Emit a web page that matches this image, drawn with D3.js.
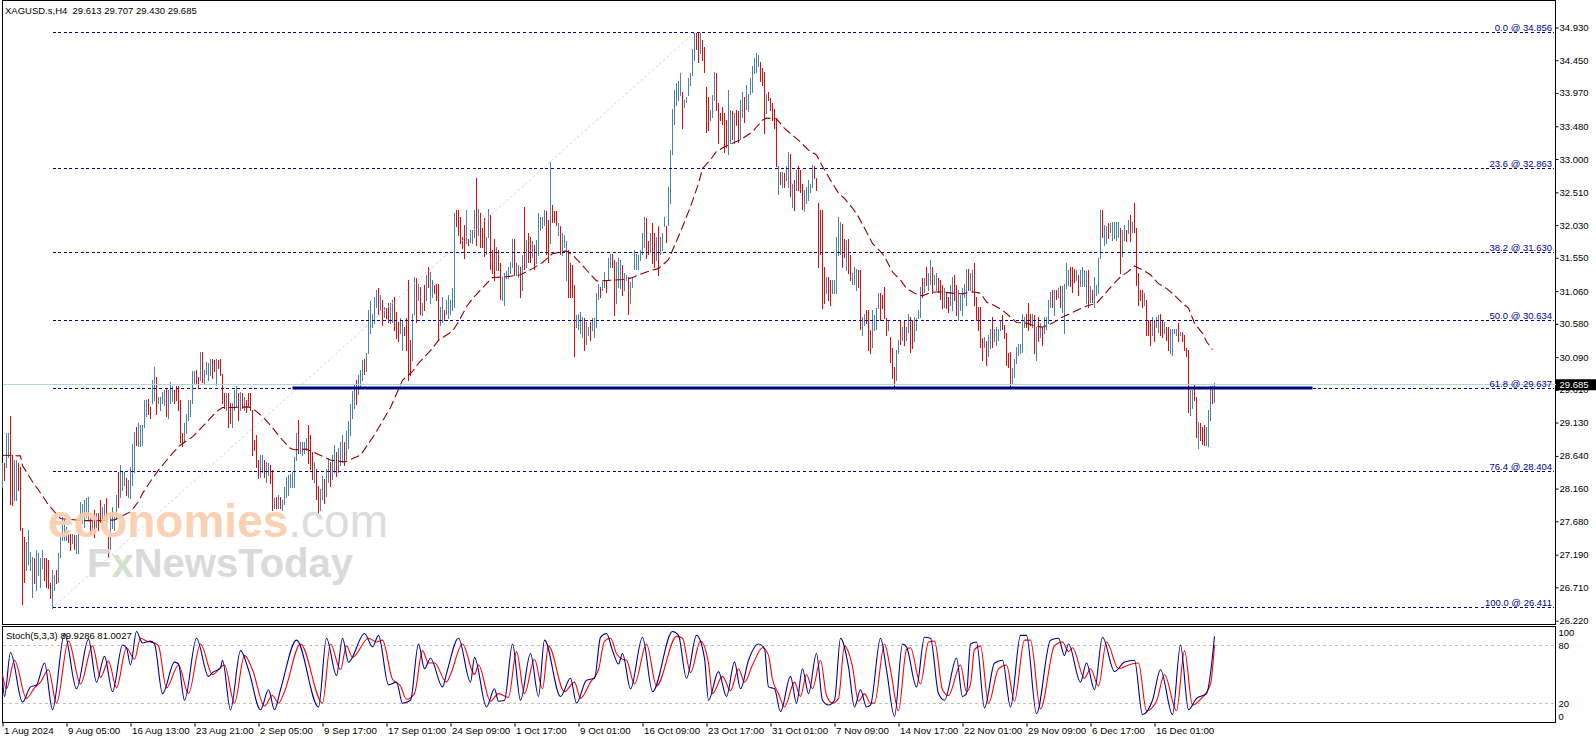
<!DOCTYPE html>
<html>
<head>
<meta charset="utf-8">
<script src="https://cdn.jsdelivr.net/npm/d3@7"></script>
<style>
  html, body { margin: 0; background: #fff; overflow: hidden }
  svg { display: block }
  text { font-family: "Liberation Sans", Arial, sans-serif }
</style>
</head>
<body>
<svg width="1596" height="743"></svg>
<script>
// XAGUSD.s H4 bars, one entry per bar (index 0 = 1 Aug 2024)
var barHigh = [
  28.53,28.53,28.97,28.97,29.22,28.65,28.58,28.58,28.53,28.48,
  27.58,27.45,27.38,27.55,27.23,27.16,27.14,27.26,27.21,27.14,
  27.26,27.14,27.14,27.11,26.77,26.96,26.89,26.96,27.21,27.48,
  27.75,27.70,27.60,27.50,27.50,27.50,27.48,27.48,27.50,27.97,
  27.94,27.99,28.02,28.04,27.75,27.70,27.85,27.80,27.80,27.99,
  27.89,27.94,28.02,27.45,27.80,27.89,27.75,28.06,28.41,28.50,
  28.41,28.41,28.31,28.29,28.48,28.82,28.99,29.07,29.12,29.09,
  29.09,29.46,29.46,29.48,29.36,29.75,29.95,29.80,29.51,29.51,
  29.58,29.61,29.63,29.61,29.73,29.66,29.61,29.66,29.66,29.46,
  28.97,29.12,29.26,29.46,29.46,29.88,29.88,29.90,29.80,30.17,
  30.17,29.90,30.02,30.00,30.07,30.07,30.05,30.07,30.05,30.07,
  29.85,29.56,29.56,29.56,29.41,29.41,29.61,29.66,29.56,29.58,
  29.56,29.51,29.46,29.56,29.56,29.31,28.87,28.95,28.58,28.65,
  28.65,28.58,28.55,28.53,28.50,28.43,28.02,28.04,28.06,28.04,
  27.99,28.19,28.33,28.36,28.38,28.41,28.63,28.97,29.17,28.85,
  28.85,28.85,28.90,29.09,28.95,28.70,28.55,28.45,28.20,28.15,
  28.35,28.30,28.45,28.60,28.55,28.65,28.80,28.70,28.75,28.85,
  28.95,28.85,29.00,29.15,29.40,29.60,29.70,29.75,29.83,29.90,
  30.05,30.07,30.15,30.78,30.91,30.73,30.98,31.08,31.10,31.00,
  30.93,30.83,30.81,30.88,30.88,30.93,30.98,30.76,30.61,30.66,
  30.63,30.54,30.66,31.22,30.34,30.73,31.27,31.25,31.17,31.12,
  30.88,31.15,31.29,31.42,31.34,31.22,31.15,31.17,31.17,30.83,
  30.98,30.78,30.93,31.00,30.93,31.10,32.20,32.25,32.25,32.15,
  31.86,32.03,32.25,31.83,31.96,31.96,32.25,32.72,32.27,32.20,
  31.98,32.13,31.86,32.27,32.18,31.66,31.83,31.71,31.66,31.47,
  31.27,31.32,31.35,31.42,31.49,31.83,31.83,31.47,31.44,31.42,
  31.59,32.30,31.81,31.91,31.86,31.79,31.74,31.81,32.20,32.15,
  32.15,32.25,32.23,32.10,32.96,32.32,32.23,32.23,32.06,32.01,
  31.91,31.88,31.79,31.66,31.47,31.44,31.15,30.71,30.73,30.76,
  30.68,30.66,30.61,30.54,30.61,30.66,30.66,31.03,31.17,31.12,
  31.20,31.34,31.22,31.54,31.61,31.61,31.52,31.49,31.54,31.52,
  31.44,31.32,31.30,31.27,31.20,31.25,31.66,31.61,31.59,31.66,
  31.91,32.15,32.13,31.79,31.91,32.06,31.91,31.86,32.01,31.86,
  31.91,32.15,32.01,32.59,33.13,33.74,34.01,34.11,34.14,34.26,
  33.99,33.87,33.91,34.19,34.26,34.62,34.85,34.85,34.85,34.85,
  34.75,34.65,34.06,33.91,33.72,33.94,34.28,34.26,33.82,33.67,
  33.77,33.67,33.57,34.01,33.72,33.70,33.67,33.72,33.70,33.87,
  33.99,33.91,34.09,33.96,34.19,34.36,34.48,34.55,34.53,34.43,
  34.33,34.28,33.96,33.99,33.89,33.82,33.74,33.60,32.89,32.81,
  32.81,32.79,32.89,33.11,33.08,32.64,32.69,32.84,32.89,32.84,
  32.64,32.54,32.59,32.69,32.64,32.91,32.89,32.72,32.35,32.25,
  32.25,31.42,31.27,31.27,31.22,31.22,31.22,31.86,32.15,32.08,
  32.05,31.83,31.81,31.83,31.59,31.32,31.42,31.39,31.37,31.37,
  30.68,30.73,30.78,30.78,30.49,30.78,30.71,30.81,31.03,31.03,
  31.00,31.12,30.66,30.63,30.39,30.22,29.95,30.20,30.34,30.63,
  30.54,30.63,30.54,30.73,30.68,30.63,30.68,30.66,30.78,31.12,
  31.25,31.25,31.42,31.32,31.52,31.42,31.30,31.32,31.25,31.22,
  31.15,31.10,31.03,30.98,31.15,31.27,31.30,31.15,31.08,31.00,
  31.10,31.17,31.39,31.39,31.32,31.37,31.47,30.98,30.83,30.83,
  30.37,30.39,30.32,30.42,30.51,30.68,30.51,30.54,30.51,30.64,
  30.71,30.56,30.44,30.15,30.17,29.93,30.07,30.24,30.29,30.29,
  30.73,30.68,30.73,30.88,30.73,30.73,30.71,30.54,30.68,30.59,
  30.54,30.68,30.68,30.93,31.05,31.08,31.08,31.08,31.10,31.13,
  31.13,31.17,31.47,31.37,31.42,31.42,31.39,31.37,31.30,31.37,
  31.42,31.37,31.35,31.37,31.13,31.08,31.27,31.15,31.54,32.25,
  32.25,32.03,32.01,32.06,32.06,32.08,32.08,32.08,32.08,31.98,
  31.96,32.03,31.96,32.10,32.18,32.08,32.35,31.98,31.32,31.08,
  31.08,31.03,30.93,30.64,30.64,30.68,30.64,30.68,30.71,30.73,
  30.64,30.61,30.54,30.54,30.51,30.51,30.51,30.51,30.59,30.46,
  30.46,30.42,30.22,30.19,29.61,29.61,29.68,29.51,29.14,29.12,
  29.07,29.09,29.07,29.31,29.66,29.66,29.707
]
var barLow = [
  28.19,28.29,28.48,28.63,27.94,27.92,27.99,27.99,28.14,27.55,
  26.47,26.79,26.96,27.06,26.96,26.57,26.77,26.67,26.89,26.72,
  26.99,26.82,26.72,26.70,26.55,26.41,26.67,26.77,26.79,27.16,
  27.40,27.40,27.40,27.38,27.26,27.36,27.28,27.21,27.21,27.72,
  27.65,27.60,27.75,27.70,27.50,27.55,27.45,27.60,27.55,27.67,
  27.58,27.75,27.65,27.16,27.28,27.58,27.55,27.72,27.89,28.04,
  28.14,28.21,28.06,28.04,28.02,28.21,28.41,28.80,28.78,28.78,
  28.80,29.07,29.22,29.26,29.19,29.41,29.46,29.26,29.41,29.31,
  29.41,29.39,29.22,29.19,29.41,29.44,29.41,29.46,29.31,28.85,
  28.78,28.85,28.97,29.17,29.22,29.41,29.70,29.70,29.63,29.75,
  29.73,29.70,29.85,29.75,29.83,29.78,29.88,29.68,29.93,29.83,
  29.41,29.34,29.31,29.07,29.12,29.07,29.31,29.36,29.17,29.31,
  29.34,29.31,29.29,29.39,29.31,28.65,28.73,28.48,28.31,28.33,
  28.41,28.33,28.26,28.36,28.24,27.84,27.87,27.87,27.87,27.87,
  27.84,27.94,28.04,28.06,28.19,28.19,28.19,28.58,28.68,28.68,
  28.65,28.68,28.73,28.53,28.45,28.30,28.25,28.00,27.80,27.85,
  28.00,27.95,28.05,28.25,28.20,28.30,28.40,28.35,28.40,28.50,
  28.55,28.50,28.60,28.75,28.95,29.20,29.35,29.40,29.55,29.65,
  29.75,29.85,29.88,30.15,30.44,30.54,30.59,30.83,30.73,30.78,
  30.56,30.68,30.66,30.61,30.59,30.61,30.49,30.37,30.32,30.44,
  30.20,30.42,30.20,29.75,29.83,30.05,30.73,30.61,30.93,30.73,
  30.71,30.78,30.93,31.12,30.88,30.98,31.03,30.93,30.34,30.56,
  30.61,30.63,30.73,30.66,30.73,30.78,30.83,32.01,31.88,31.76,
  31.69,31.54,31.76,31.74,31.78,31.76,31.86,31.74,31.88,31.71,
  31.71,31.57,31.61,31.86,31.39,31.32,31.22,31.37,31.37,30.95,
  30.93,30.86,31.25,31.25,31.32,31.42,31.30,31.30,31.27,30.98,
  31.08,31.39,31.42,31.49,31.49,31.56,31.39,31.47,31.59,31.96,
  31.98,32.03,31.61,31.49,31.76,32.08,32.08,32.03,31.88,31.61,
  31.59,31.71,31.22,30.98,30.98,30.98,30.10,30.54,30.51,30.44,
  30.39,30.20,30.29,30.42,30.34,30.49,30.39,30.54,30.95,30.98,
  31.08,31.12,31.05,31.22,31.42,31.42,30.71,30.88,31.12,31.10,
  31.00,31.08,31.22,30.73,30.88,31.12,31.39,31.39,31.39,31.52,
  31.61,31.71,31.54,31.61,31.64,31.47,31.42,31.52,31.30,31.61,
  31.66,32.01,31.78,32.03,32.35,33.08,33.52,33.79,33.87,33.94,
  33.45,33.77,33.84,33.94,34.09,34.23,34.45,34.62,34.43,34.55,
  34.45,34.28,33.40,33.43,33.57,33.62,33.87,33.72,33.23,33.57,
  33.52,33.11,33.18,33.08,33.23,33.30,33.23,33.50,33.25,33.30,
  33.62,33.55,33.74,33.70,33.96,33.99,34.26,34.28,34.36,34.14,
  34.09,33.38,33.67,33.87,33.72,33.57,33.45,32.89,32.49,32.64,
  32.59,32.59,32.69,32.59,32.45,32.30,32.25,32.54,32.54,32.52,
  32.27,32.23,32.35,32.40,32.52,32.59,32.72,32.54,31.42,31.61,
  30.81,30.88,31.03,30.93,30.86,31.03,31.03,31.03,31.59,31.61,
  31.42,31.56,31.37,31.32,31.22,31.17,31.17,31.08,31.12,30.51,
  30.42,30.56,30.59,30.20,30.15,30.24,30.49,30.51,30.81,30.63,
  30.81,30.66,30.42,30.49,30.02,29.78,29.66,29.75,30.15,30.29,
  30.34,30.27,30.34,30.46,30.17,30.22,30.32,30.49,30.66,30.68,
  30.98,31.05,31.15,31.08,31.17,31.03,31.17,31.08,31.05,30.95,
  30.81,30.83,30.81,30.76,30.86,30.78,30.93,30.71,30.64,30.78,
  30.71,30.98,30.86,31.08,31.08,31.05,30.86,30.64,30.49,30.24,
  30.05,30.24,29.98,30.10,30.22,30.24,30.32,30.27,30.34,30.49,
  30.51,30.37,29.98,29.95,29.63,29.71,29.80,30.00,30.12,30.15,
  30.17,30.54,30.54,30.49,30.56,30.54,30.15,30.05,30.32,30.39,
  30.27,30.44,30.51,30.59,30.83,30.83,30.71,30.95,30.98,30.83,
  30.76,30.44,31.10,31.15,31.13,31.05,31.20,31.22,31.00,31.13,
  31.13,31.13,30.88,30.83,30.90,30.90,30.83,31.00,31.03,31.54,
  31.86,31.74,31.76,31.84,31.93,31.81,31.84,31.81,31.86,31.32,
  31.57,31.81,31.79,31.91,31.79,31.93,31.93,31.15,30.86,30.93,
  30.83,30.86,30.42,30.42,30.27,30.42,30.32,30.54,30.46,30.42,
  30.39,30.44,30.34,30.19,30.15,30.12,30.44,30.42,30.32,30.42,
  30.32,30.19,30.10,29.29,29.24,29.34,29.46,28.92,28.75,28.87,
  28.82,28.80,28.80,28.78,29.17,29.41,29.43
]
// u = up bar (steel blue), d = down bar (red)
var barDir = (
  "uduudduudd dduuuuduuu udddduuduu uuudduduuu uuuudududd " +
  "uudduuuudu uuduuuuduu uuudduuduu uuduuudddd duuuuuuddu " +
  "duuuuddudd ddudduuudu dudddddddu uduuddudud uuuuuuuudu " +
  "uuuddduddu uduuduuduu uduuuuuduu uduuuuuudu dudduudddu " +
  "udddduudud ududuudddu uduuuuuddd dduduuudud dduudddudd " +
  "uuuuuuduud ududduduuu uuddudddud uuudddduuu uduuduuuud " +
  "uuduudduuu duuduuuuuu uudduddudu uuduuuuuuu duuuuuuddu " +
  "dddduuuddd ddduududdu uduuuuuuud ddudddddud uduudududd " +
  "duuuuudddd ddudduuuuu ddudduuudd uuddduuuud ddduddduud " +
  "uduudduuuu duduuduudd dudduudduu uuuduudddd duduuduuuu " +
  "ddddduuuuu uudddududu duuuududud uuuudddudu uuududuuuu " +
  "duuduuuuud uudududddd duddduduud dudduuuudu dddduuddud " +
  "dduuudu").replace(/ /g, "")

// moving average, read at [bar index, price]
var maLine = [
  [0,28.65],[9,28.64],[10,28.50],[15,28.26],[18,28.14],[23,27.92],[29,27.72],[40,27.69],
  [49,27.69],[56,27.70],[64,27.82],[68,27.97],[70,28.09],[75,28.31],[78,28.43],[85,28.68],
  [89,28.80],[95,28.92],[99,29.04],[107,29.29],[110,29.35],[115,29.35],[123,29.36],[125,29.34],
  [130,29.22],[134,29.09],[140,28.87],[144,28.75],[146,28.73],[152,28.74],[164,28.58],[171,28.55],
  [179,28.65],[186,28.95],[194,29.35],[200,29.75],[205,29.88],[208,30.00],[215,30.22],[218,30.34],
  [225,30.47],[228,30.61],[232,30.83],[235,30.95],[242,31.17],[245,31.26],[252,31.27],[259,31.30],
  [265,31.39],[270,31.48],[275,31.61],[282,31.65],[285,31.59],[289,31.47],[292,31.37],[297,31.21],
  [300,31.21],[304,31.22],[310,31.23],[314,31.25],[320,31.32],[325,31.37],[328,31.39],[333,31.52],
  [335,31.66],[339,31.93],[344,32.30],[348,32.64],[350,32.86],[354,32.99],[357,33.11],[361,33.18],
  [365,33.23],[370,33.30],[375,33.40],[377,33.47],[380,33.57],[382,33.60],[387,33.59],[391,33.45],
  [395,33.35],[399,33.25],[403,33.13],[407,33.06],[410,32.89],[414,32.69],[418,32.50],[421,32.42],
  [425,32.28],[428,32.15],[432,31.93],[435,31.76],[439,31.64],[441,31.57],[445,31.34],[449,31.22],
  [452,31.10],[456,31.03],[460,30.99],[464,31.04],[469,31.05],[475,31.03],[480,31.02],[485,31.05],
  [489,31.03],[492,30.90],[497,30.83],[500,30.78],[504,30.68],[507,30.60],[512,30.59],[516,30.55],
  [520,30.53],[525,30.59],[530,30.68],[536,30.76],[542,30.84],[547,30.88],[550,30.98],[555,31.15],
  [559,31.27],[563,31.35],[566,31.43],[570,31.37],[574,31.30],[578,31.17],[582,31.10],[586,31.00],
  [590,30.88],[593,30.81],[596,30.59],[600,30.44],[602,30.32],[605,30.20]
]

// Stochastic(5,3,3): main line (blue) and signal line (red), [bar index, value]
var stochMain = [
  [0,46],[1,27],[4,73],[10,21],[14,37],[17,39],[21,62],[25,13],[31,93],[37,35],[43,87],[47,42],
  [51,69],[55,32],[60,81],[62,78],[64,60],[67,95],[70,83],[74,85],[76,82],[80,30],[86,63],[88,61],
  [91,23],[97,88],[103,48],[105,52],[109,57],[110,65],[114,13],[119,75],[123,55],[129,13],[133,34],
  [136,13],[139,34],[147,86],[158,16],[162,88],[167,49],[170,88],[173,63],[181,93],[185,79],[188,91],
  [193,39],[197,42],[200,20],[204,23],[208,82],[211,56],[214,67],[220,37],[222,51],[228,88],[234,42],
  [236,68],[242,16],[246,35],[248,22],[251,23],[255,82],[259,23],[264,72],[268,27],[271,86],[279,27],
  [284,46],[287,20],[292,44],[296,46],[299,89],[302,93],[305,75],[308,61],[310,72],[314,35],[320,89],
  [325,32],[335,95],[338,91],[342,46],[347,91],[351,67],[353,23],[358,53],[362,27],[366,63],[369,35],
  [373,65],[378,82],[381,77],[383,37],[386,35],[389,11],[394,48],[397,20],[400,56],[403,30],[407,72],
  [410,23],[413,18],[416,23],[419,88],[423,58],[426,16],[429,34],[432,16],[434,18],[439,88],[442,55],
  [446,6],[450,82],[452,79],[457,37],[461,89],[464,88],[468,30],[471,23],[477,67],[480,27],[482,30],
  [484,82],[487,84],[491,15],[496,62],[500,65],[504,16],[509,91],[512,91],[517,9],[524,86],[528,88],
  [531,70],[533,82],[539,42],[542,62],[546,34],[550,89],[556,53],[561,63],[566,65],[570,8],[575,23],
  [579,55],[585,8],[589,81],[593,13],[597,25],[602,30],[606,89.93]
]
var stochSignal = [
  [0,50],[2,35],[6,65],[12,25],[16,36],[19,42],[23,55],[27,20],[33,85],[39,40],[45,80],[49,47],
  [53,64],[57,36],[62,78],[66,66],[69,88],[72,85],[76,83],[78,80],[82,36],[88,60],[93,30],[99,82],
  [105,50],[111,60],[116,20],[121,70],[125,55],[131,17],[135,28],[138,20],[141,32],[149,82],[160,20],
  [164,82],[169,55],[172,80],[175,68],[183,88],[187,84],[190,86],[195,45],[199,38],[202,24],[206,30],
  [210,75],[213,62],[216,62],[222,42],[224,50],[230,82],[236,50],[238,60],[244,22],[248,30],[253,26],
  [257,74],[261,30],[266,66],[270,35],[273,80],[281,32],[286,42],[289,25],[294,42],[298,55],[301,85],
  [304,88],[307,72],[310,66],[312,65],[316,40],[322,82],[327,38],[337,90],[340,88],[344,52],[349,85],
  [353,62],[355,30],[360,48],[364,33],[368,56],[371,42],[375,60],[380,78],[383,70],[385,45],[388,30],
  [391,16],[396,42],[399,27],[402,50],[405,35],[409,65],[412,28],[415,20],[418,25],[421,80],[425,58],
  [428,22],[431,30],[434,20],[436,20],[441,82],[444,55],[448,12],[452,76],[454,78],[459,40],[463,84],
  [466,85],[470,34],[473,28],[479,60],[482,32],[484,40],[486,76],[489,80],[493,20],[498,56],[502,60],
  [506,22],[511,86],[514,86],[519,14],[526,80],[530,84],[533,74],[535,78],[541,46],[544,56],[548,38],
  [552,84],[558,56],[563,60],[568,62],[572,12],[577,22],[581,50],[587,12],[591,75],[595,18],[599,24],
  [604,40],[606,81]
]

var priceTicks = [34.930,34.450,33.970,33.480,33.000,32.510,32.030,31.550,31.060,30.580,
                  30.090,29.610,29.130,28.640,28.160,27.680,27.190,26.710,26.220]
var fibPct = ["0.0","23.6","38.2","50.0","61.8","76.4","100.0"]
var fibPrice = [34.856,32.863,31.630,30.634,29.637,28.404,26.411]
var timeBars = [0,32,64,96,128,160,192,224,256,288,320,352,384,416,448,480,512,544,576]
var timeLabels = ["1 Aug 2024","9 Aug 05:00","16 Aug 13:00","23 Aug 21:00","2 Sep 05:00",
  "9 Sep 17:00","17 Sep 01:00","24 Sep 09:00","1 Oct 17:00","9 Oct 01:00","16 Oct 09:00",
  "23 Oct 17:00","31 Oct 01:00","7 Nov 09:00","14 Nov 17:00","22 Nov 01:00","29 Nov 09:00",
  "6 Dec 17:00","16 Dec 01:00"]
var stochTicks = [100,80,20,0]
var stochLevels = [80,20]
var bidPrice = 29.685
var fibFromBar = 25, fibToBar = 346      // fib drawn low -> high
var trendFromBar = 145, trendToBar = 655 // thick support line at 61.8

var fontSize = "9.5px"
var svg = d3.select("svg")
var x = d3.scaleLinear().domain([0, 606]).range([2.5, 1214.5])
var y = d3.scaleLinear().domain([26.411, 34.856]).range([607.7, 32.6])
var ys = d3.scaleLinear().domain([0, 100]).range([722.2, 626.8])
var px = function (v) { return Math.round(v - 0.5) + 0.5 }
var panelRight = 1555.5

//Frames
svg.append("rect").attr("x", 2.5).attr("y", 0.5).attr("width", panelRight - 2.5).attr("height", 624)
    .attr("fill", "none").attr("stroke", "#000")
svg.append("rect").attr("x", 2.5).attr("y", 626.5).attr("width", panelRight - 2.5).attr("height", 96)
    .attr("fill", "none").attr("stroke", "#000")

//Price bars
svg.append("g").attr("shape-rendering", "crispEdges")
    .selectAll("line").data(d3.range(barHigh.length)).join("line")
    .attr("x1", function (i) { return x(i) }).attr("x2", function (i) { return x(i) })
    .attr("y1", function (i) { return y(barHigh[i]) }).attr("y2", function (i) { return y(barLow[i]) + 1 })
    .attr("stroke", function (i) { return barDir[i] == "u" ? "#4682b4" : "#ff0000" })

//Moving average (dashed)
svg.append("path").datum(maLine)
    .attr("d", d3.line().x(function (d) { return x(d[0]) }).y(function (d) { return y(d[1]) }))
    .attr("fill", "none").attr("stroke", "#8b0000").attr("stroke-width", 1.1).attr("stroke-dasharray", "9,4")

//Bid line
svg.append("line").attr("x1", 2.5).attr("x2", panelRight).attr("y1", px(y(bidPrice))).attr("y2", px(y(bidPrice)))
    .attr("stroke", "#aedad6").attr("shape-rendering", "crispEdges")

//Fibonacci retracement
svg.append("line").attr("x1", x(fibFromBar)).attr("y1", y(fibPrice[6]))
    .attr("x2", x(fibToBar)).attr("y2", y(fibPrice[0]))
    .attr("stroke", "#c6c6ee").attr("stroke-dasharray", "2,3")
var fib = svg.append("g")
fib.selectAll("line").data(fibPrice).join("line")
    .attr("x1", x(fibFromBar)).attr("x2", panelRight - 2)
    .attr("y1", function (d) { return px(y(d)) }).attr("y2", function (d) { return px(y(d)) })
    .attr("stroke", "#00008b").attr("stroke-dasharray", "3,2.6").attr("shape-rendering", "crispEdges")
fib.selectAll("text").data(fibPrice).join("text")
    .attr("x", 1552).attr("y", function (d) { return px(y(d)) - 2 })
    .attr("text-anchor", "end").attr("fill", "#00008b").style("font-size", fontSize)
    .text(function (d, i) { return fibPct[i] + " @ " + d.toFixed(3) })

//Thick support line
svg.append("line").attr("x1", x(trendFromBar)).attr("x2", x(trendToBar))
    .attr("y1", y(fibPrice[4])).attr("y2", y(fibPrice[4]))
    .attr("stroke", "#000080").attr("stroke-width", 3)

//Watermark
var wm = svg.append("g").attr("opacity", 0.9).style("font-family", "'Open Sans', sans-serif")
var wm1 = wm.append("text").attr("x", 48).attr("y", 537).style("font-size", "46px").style("font-weight", 600)
wm1.append("tspan").attr("fill", "#fbcdab").text("economies")
wm1.append("tspan").attr("fill", "#d9d9d9").style("font-weight", 400).text(".com")
var wm2 = wm.append("text").attr("x", 87).attr("y", 577).style("font-size", "40px").style("font-weight", 600)
    .attr("fill", "#d6d6d6")
wm2.append("tspan").text("F")
wm2.append("tspan").attr("fill", "#cde2c4").text("x")
wm2.append("tspan").text("NewsToday")

//Stochastic window
svg.append("g").selectAll("line").data(stochLevels).join("line")
    .attr("x1", 3).attr("x2", panelRight - 1)
    .attr("y1", function (d) { return px(ys(d)) }).attr("y2", function (d) { return px(ys(d)) })
    .attr("stroke", "#c0c0c0").attr("stroke-dasharray", "3,3").attr("shape-rendering", "crispEdges")
var stochLine = d3.line().curve(d3.curveMonotoneX)
    .x(function (d) { return x(d[0]) }).y(function (d) { return ys(d[1]) })
svg.append("path").datum(stochSignal).attr("d", stochLine)
    .attr("fill", "none").attr("stroke", "#ff0000").attr("stroke-width", 1.1)
svg.append("path").datum(stochMain).attr("d", stochLine)
    .attr("fill", "none").attr("stroke", "#00008b").attr("stroke-width", 1.1)

//Axes
var priceAxis = svg.append("g").attr("transform", "translate(" + panelRight + ",0)")
    .call(d3.axisRight(y).tickValues(priceTicks).tickSize(3).tickPadding(1).tickFormat(d3.format(".3f")))
priceAxis.select(".domain").remove()
priceAxis.selectAll("text").attr("fill", "#000").style("font-size", fontSize)

var stochAxis = svg.append("g").attr("transform", "translate(" + panelRight + ",0)")
    .call(d3.axisRight(ys).tickValues(stochTicks).tickSize(0).tickPadding(3))
stochAxis.select(".domain").remove()
stochAxis.selectAll("text").attr("fill", "#000").style("font-size", fontSize)
    .attr("y", function (d) { return d == 100 ? 6 : d == 0 ? -6 : 0 })

var timeAxis = svg.append("g").attr("transform", "translate(0,722.5)")
    .call(d3.axisBottom(x).tickValues(timeBars).tickSize(4).tickPadding(1)
        .tickFormat(function (d, i) { return timeLabels[i] }))
timeAxis.select(".domain").remove()
timeAxis.selectAll("text").attr("fill", "#000").attr("text-anchor", "start").attr("dx", 1)
    .style("font-size", "9.8px")

//Current price tag
svg.append("rect").attr("x", panelRight + 0.5).attr("y", y(bidPrice) - 5.5).attr("width", 40).attr("height", 11)
    .attr("fill", "#000")
svg.append("text").attr("x", panelRight + 4).attr("y", y(bidPrice)).attr("dy", "0.34em")
    .attr("fill", "#fff").style("font-size", fontSize).text(bidPrice.toFixed(3))

//Titles
svg.append("text").attr("x", 5).attr("y", 14).style("font-size", fontSize).style("white-space", "pre")
    .text("XAGUSD.s,H4  29.613 29.707 29.430 29.685")
svg.append("text").attr("x", 6).attr("y", 639).style("font-size", fontSize).style("white-space", "pre")
    .text("Stoch(5,3,3) 89.9286 81.0027")
</script>
</body>
</html>
